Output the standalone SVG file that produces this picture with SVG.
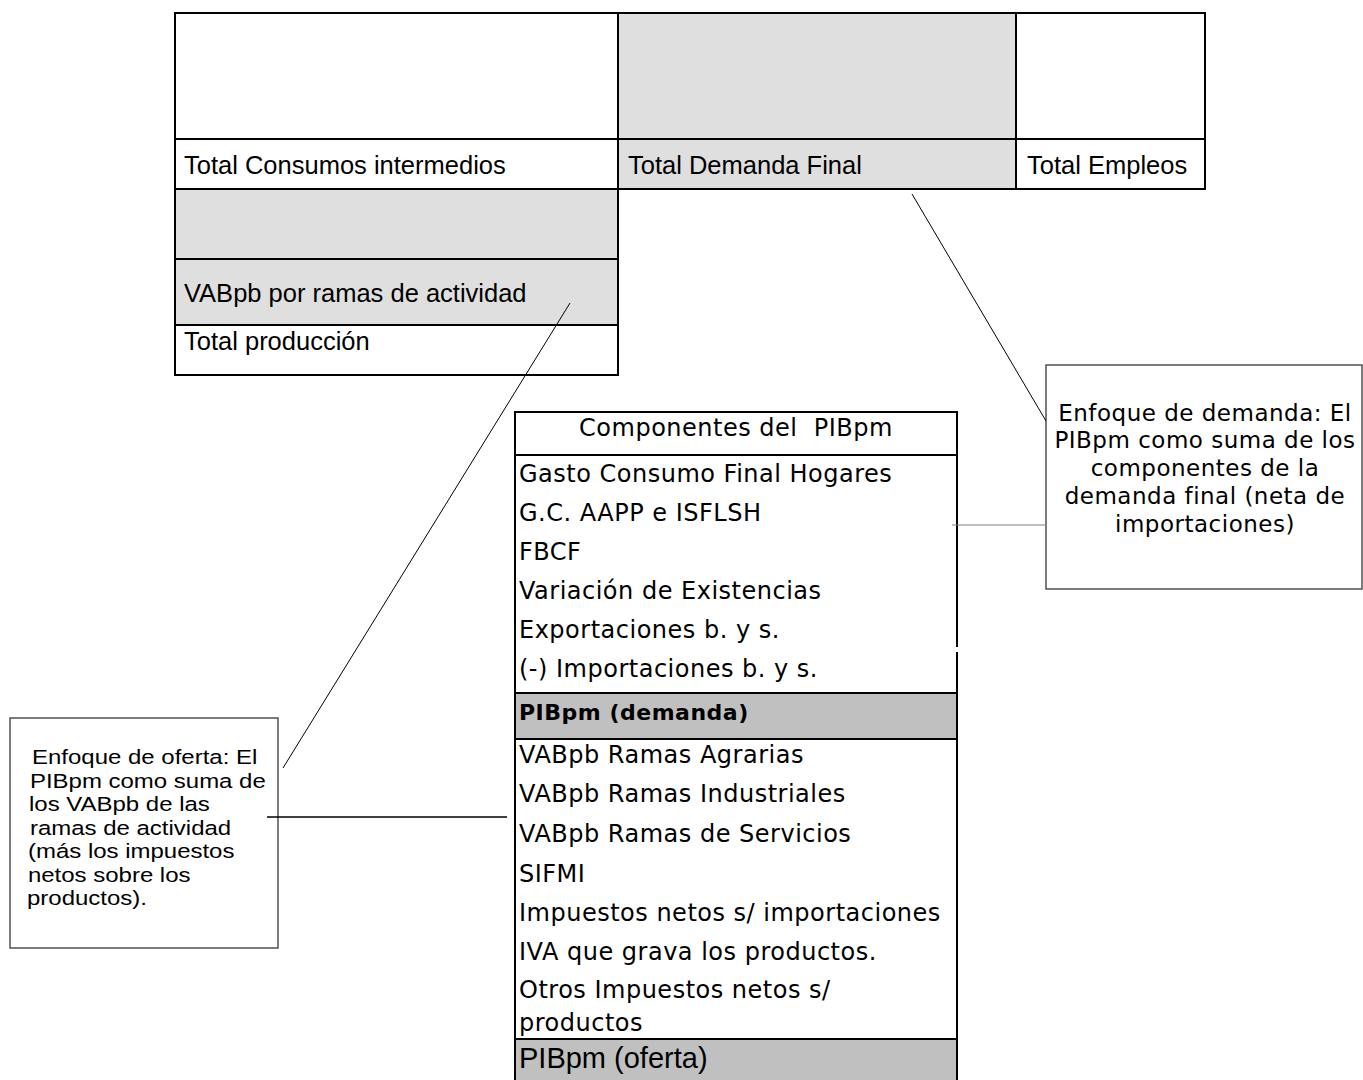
<svg xmlns="http://www.w3.org/2000/svg" width="1363" height="1080" viewBox="0 0 1363 1080">
<style>
.bg{fill:#ffffff}
.g1{fill:#dfdfdf}
.g2{fill:#c0c0c0}
.tb{stroke:#000;stroke-width:2;fill:none}
.note{fill:#fff;stroke:#505050;stroke-width:1.5}
.ar{font-family:"Liberation Sans",Arial,sans-serif;font-size:25.5px;fill:#000}
.un{font-family:"DejaVu Sans",Verdana,sans-serif;font-size:24px;letter-spacing:0.5px;fill:#000}
.unb{font-family:"DejaVu Sans",Verdana,sans-serif;font-size:22px;font-weight:bold;letter-spacing:0.5px;fill:#000}
.nl{font-family:"Liberation Sans",Arial,sans-serif;font-size:20.5px;fill:#000}
.nr{font-family:"DejaVu Sans",Verdana,sans-serif;font-size:23px;letter-spacing:0.5px;fill:#000;text-anchor:middle}
.big{font-family:"Liberation Sans",Arial,sans-serif;font-size:29px;fill:#000}
.c1{stroke:#000;stroke-width:1;fill:none}
.c2{stroke:#808080;stroke-width:1.2;fill:none}
.c3{stroke:#000;stroke-width:1.5;fill:none}
</style>
<rect class="bg" x="0" y="0" width="1363" height="1080"/>

<g id="io-table">
  <rect class="g1" x="618" y="13" width="398" height="176"/>
  <rect class="g1" x="175" y="189" width="443" height="136"/>
  <path class="tb" d="M175,13 H1205 V189 H618 V375 H175 Z"/>
  <path class="tb" d="M618,13 V189 M1016,13 V189 M175,139 H1205 M175,189 H618 M175,259 H618 M175,325 H618"/>
  <text class="ar" x="184" y="174">Total Consumos intermedios</text>
  <text class="ar" x="628" y="174">Total Demanda Final</text>
  <text class="ar" x="1027" y="174">Total Empleos</text>
  <text class="ar" x="184" y="302">VABpb por ramas de actividad</text>
  <text class="ar" x="184" y="350">Total producción</text>
</g>

<g id="components">
  <rect class="g2" x="515" y="693" width="442" height="46"/>
  <rect class="g2" x="515" y="1039" width="442" height="45"/>
  <path class="tb" d="M515,1082 V412 H957 V647 M957,652 V1082"/>
  <path class="tb" d="M515,455 H957 M515,693 H957 M515,739 H957 M515,1039 H957"/>
  <text class="un" x="736" y="436" text-anchor="middle" xml:space="preserve">Componentes del  PIBpm</text>
  <text class="un" x="519" y="482">Gasto Consumo Final Hogares</text>
  <text class="un" x="519" y="521">G.C. AAPP e ISFLSH</text>
  <text class="un" x="519" y="560">FBCF</text>
  <text class="un" x="519" y="599">Variación de Existencias</text>
  <text class="un" x="519" y="638">Exportaciones b. y s.</text>
  <text class="un" x="519" y="677">(-) Importaciones b. y s.</text>
  <text class="unb" x="519" y="720">PIBpm (demanda)</text>
  <text class="un" x="519" y="763">VABpb Ramas Agrarias</text>
  <text class="un" x="519" y="802">VABpb Ramas Industriales</text>
  <text class="un" x="519" y="842">VABpb Ramas de Servicios</text>
  <text class="un" x="519" y="882">SIFMI</text>
  <text class="un" x="519" y="921">Impuestos netos s/ importaciones</text>
  <text class="un" x="519" y="960">IVA que grava los productos.</text>
  <text class="un" x="519" y="998">Otros Impuestos netos s/</text>
  <text class="un" x="519" y="1031">productos</text>
  <text class="big" x="519" y="1068">PIBpm (oferta)</text>
</g>

<g id="note-oferta">
  <rect class="note" x="10" y="718" width="268" height="230"/>
  <g transform="scale(1.17,1)">
    <text class="nl" x="27.4" y="764">Enfoque de oferta: El</text>
    <text class="nl" x="25.6" y="788">PIBpm como suma de</text>
    <text class="nl" x="24.8" y="811">los VABpb de las</text>
    <text class="nl" x="25.6" y="835">ramas de actividad</text>
    <text class="nl" x="23.9" y="858">(más los impuestos</text>
    <text class="nl" x="23.9" y="882">netos sobre los</text>
    <text class="nl" x="23.1" y="905">productos).</text>
  </g>
</g>

<g id="note-demanda">
  <rect class="note" x="1046" y="365" width="316" height="224"/>
  <text class="nr" x="1205" y="421">Enfoque de demanda: El</text>
  <text class="nr" x="1205" y="448">PIBpm como suma de los</text>
  <text class="nr" x="1205" y="476">componentes de la</text>
  <text class="nr" x="1205" y="504">demanda final (neta de</text>
  <text class="nr" x="1205" y="532">importaciones)</text>
</g>

<g id="connectors">
  <line class="c1" x1="570" y1="303" x2="283" y2="768"/>
  <line class="c1" x1="912" y1="194" x2="1046" y2="421"/>
  <line class="c2" x1="952" y1="525" x2="1046" y2="525"/>
  <line class="c3" x1="267" y1="817" x2="507" y2="817"/>
</g>
</svg>
